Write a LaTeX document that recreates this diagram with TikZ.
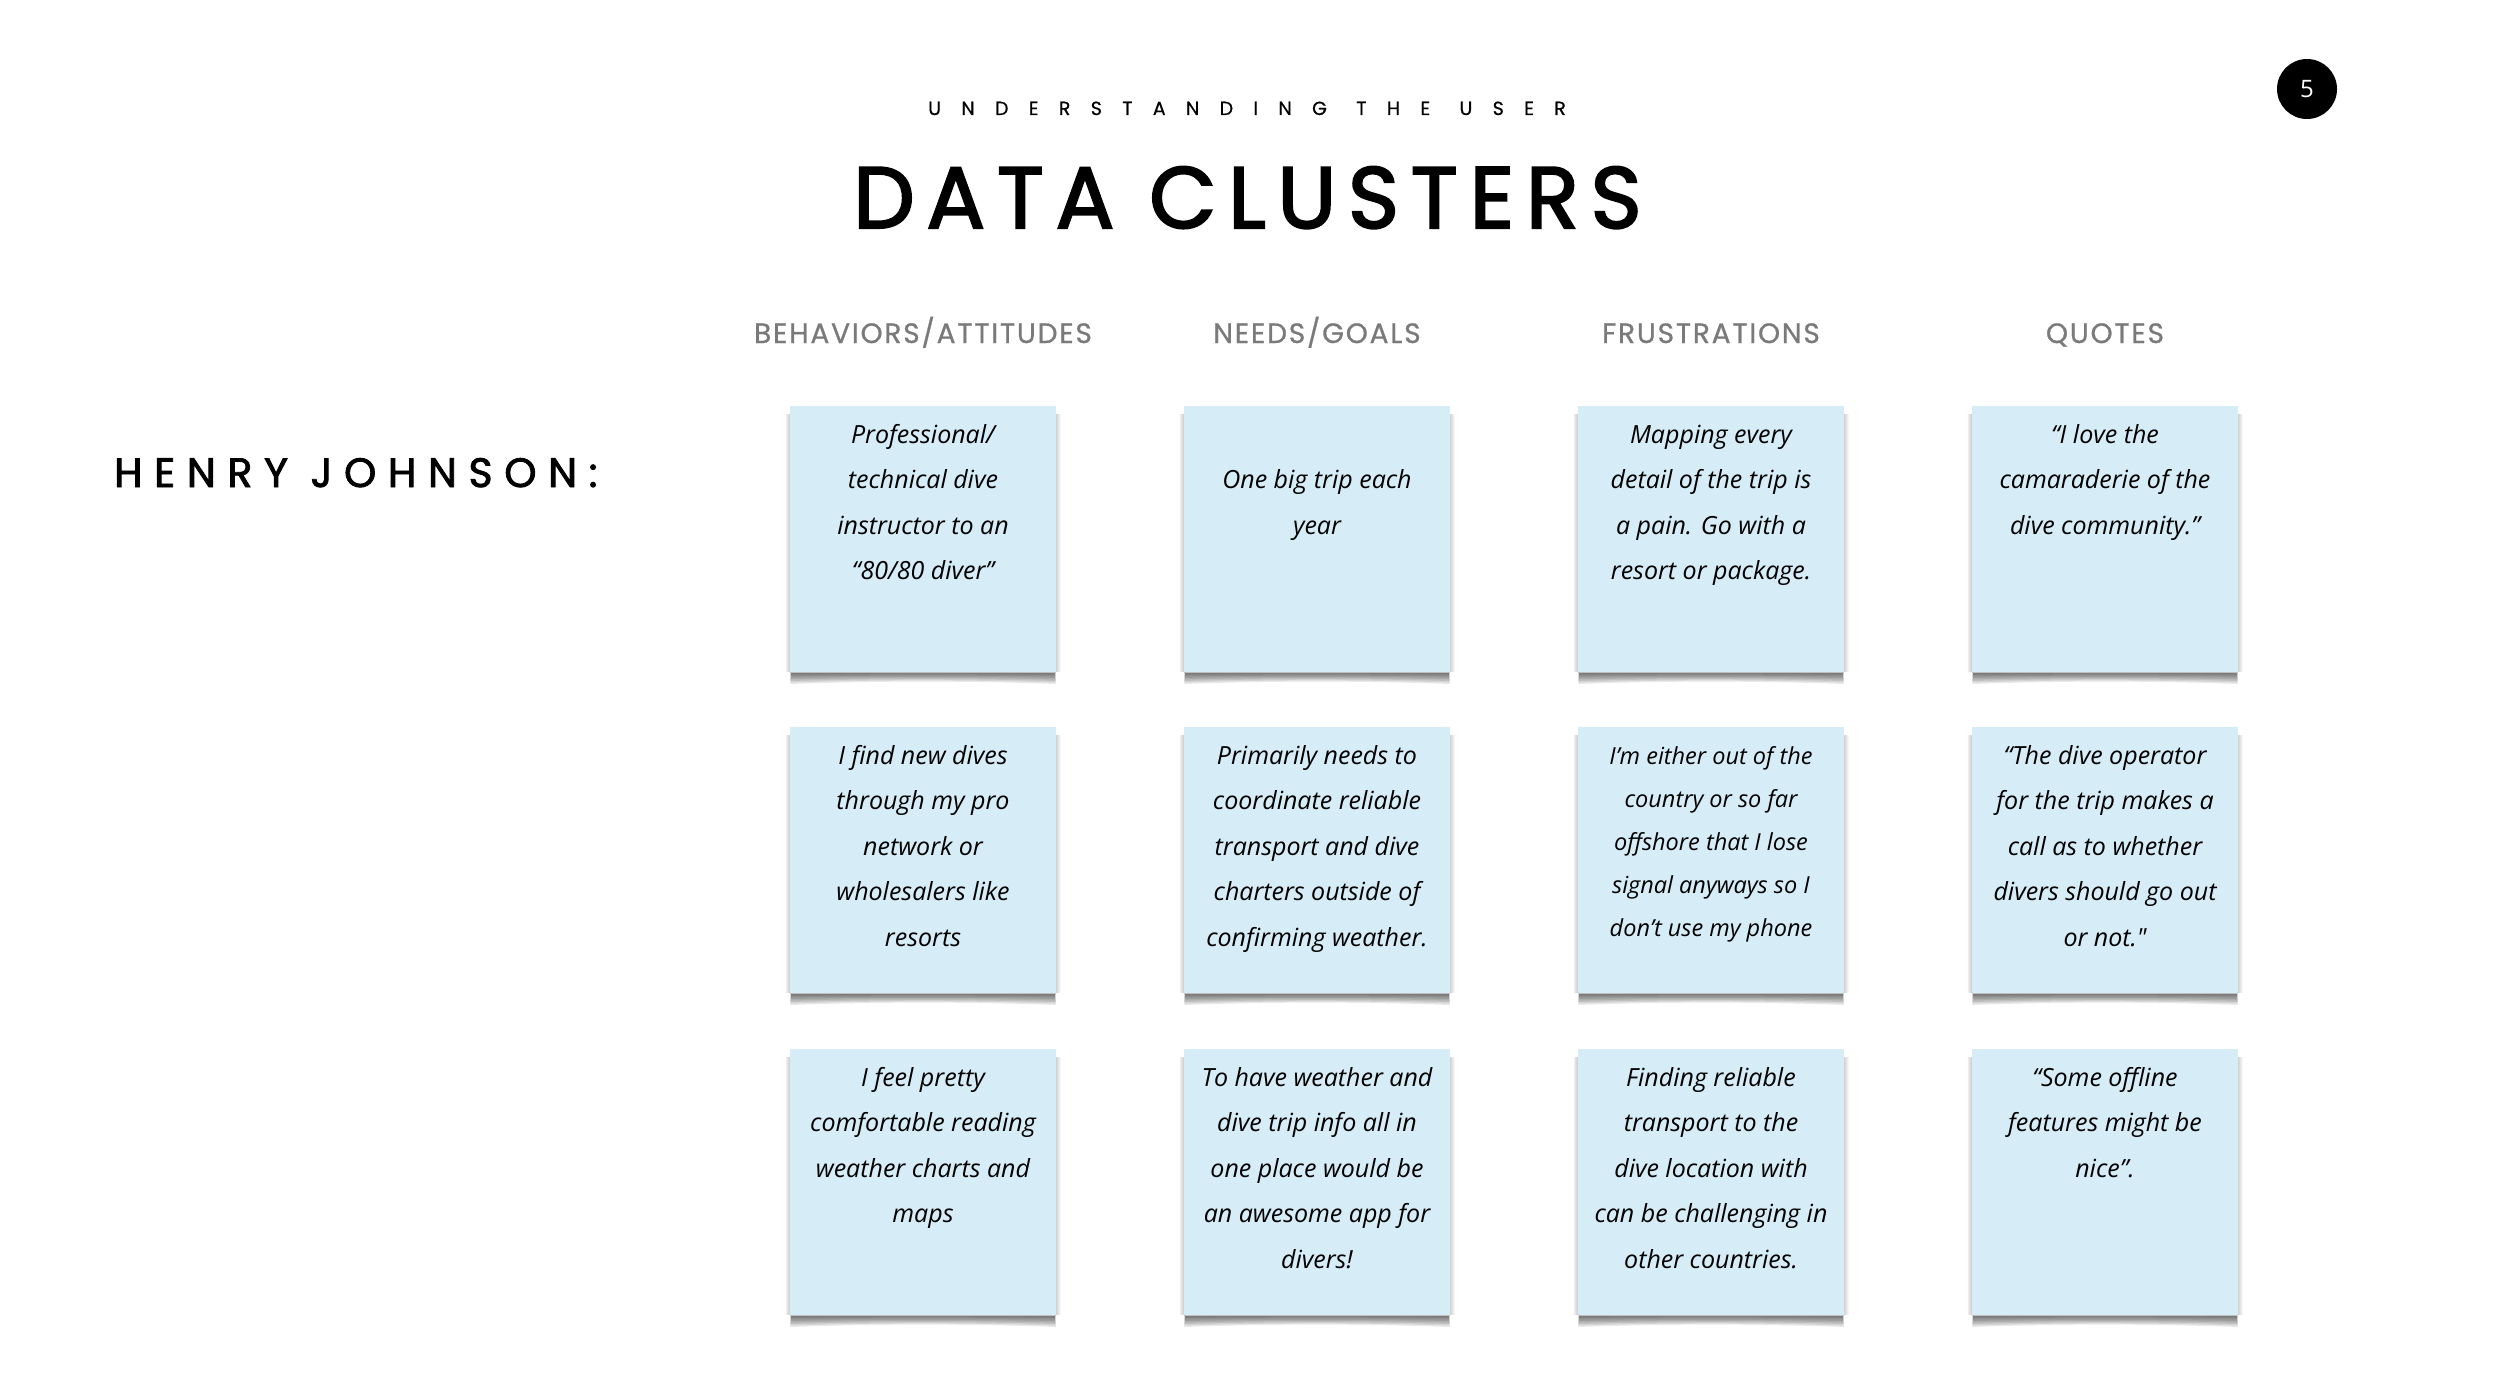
\documentclass[tikz,border=0pt]{standalone}
\usepackage{fontspec}
\newfontfamily\pop{Poppins}[FakeBold=0.6]
\newfontfamily\poptitle{Poppins}[FakeBold=2.4]
\newfontfamily\popmed{Poppins}[FakeBold=2]
\newfontfamily\pophead{Poppins}[FakeBold=0.8]
\newfontfamily\osans{Open Sans}
\newfontfamily\notefont{Open Sans}
\definecolor{notecol}{RGB}{214,237,247}
\definecolor{headgray}{RGB}{122,122,122}
\tikzset{
  notebox/.style={fill=notecol, minimum width=266pt, minimum height=266pt, inner sep=0pt, draw=none},
  notetext/.style={anchor=north, inner sep=0pt, align=center, font=\notefont\itshape\fontsize{25}{45.5}\selectfont},
  smalltext/.style={font=\notefont\itshape\fontsize{23.5}{43}\selectfont},
  colhead/.style={anchor=base, inner sep=0pt, text=headgray, font=\pophead\fontsize{28}{30}\selectfont\addfontfeatures{LetterSpace=6.5}},
}
\newcommand\stickynote[6][]{%
  \begin{scope}[shift={(#3,#4)}]
    \foreach \i in {1,...,5}{\fill[black,opacity=0.035] (-\i*0.9,8) rectangle (266+\i*0.9,266);}
    \foreach \i in {1,...,8}{\fill[black,opacity=0.09] (1,262) -- (265,262) -- (265+\i*0.1,266+\i*1.5) .. controls (180,266+\i*1.1) and (86,266+\i*1.1) .. (1-\i*0.1,266+\i*1.5) -- cycle;}
    \node[notebox, anchor=north west] (#2) at (0,0) {};
    \draw[black!25, line width=1.2pt] (#2.south west) -- (#2.south east);
    \node[notetext,#1] (#2t) at (133,#5) {\strut #6};
  \end{scope}
}
\begin{document}
\begin{tikzpicture}[x=1pt,y=-1pt]
\useasboundingbox (0,0) rectangle (2500,1399);
\fill[white] (0,0) rectangle (2500,1399);

\node[anchor=base west, inner sep=0pt, font=\pop\fontsize{19}{20}\selectfont\addfontfeatures{LetterSpace=107}] (sub) at (928,115) {UNDERSTANDING\hspace{4pt} THE\hspace{4pt} USER};
\node[anchor=base west, inner sep=0pt, font=\poptitle\fontsize{87}{90}\selectfont\addfontfeatures{LetterSpace=13.5}] (title) at (853,228) {DATA CLUSTERS};
\node[circle, fill=black, minimum size=60pt, inner sep=0pt, text=white, font=\osans\fontsize{24}{26}\selectfont] (page) at (2307,89) {5};
\node[anchor=base west, inner sep=0pt, font=\popmed\fontsize{41}{44}\selectfont\addfontfeatures{LetterSpace=28.5}] (henry) at (114,487) {HENRY JOHNSON:};

\node[colhead] (h1) at (923,343) {BEHAVIORS/ATTITUDES};
\node[colhead] (h2) at (1317,343) {NEEDS/GOALS};
\node[colhead] (h3) at (1711,343) {FRUSTRATIONS};
\node[colhead] (h4) at (2105,343) {QUOTES};

\stickynote{n11}{790}{406}{5.15}{Professional/\\technical dive\\instructor to an\\“80/80 diver”}
\stickynote{n12}{1184}{406}{50.65}{One big trip each\\year}
\stickynote{n13}{1578}{406}{5.15}{Mapping every\\detail of the trip is\\a pain. Go with a\\resort or package.}
\stickynote{n14}{1972}{406}{5.15}{“I love the\\camaraderie of the\\dive community.”}

\stickynote{n21}{790}{727}{5.15}{I find new dives\\through my pro\\network or\\wholesalers like\\resorts}
\stickynote{n22}{1184}{727}{5.15}{Primarily needs to\\coordinate reliable\\transport and dive\\charters outside of\\confirming weather.}
\stickynote[smalltext]{n23}{1578}{727}{6.9}{I’m either out of the\\country or so far\\offshore that I lose\\signal anyways so I\\don’t use my phone}
\stickynote{n24}{1972}{727}{5.15}{“The dive operator\\for the trip makes a\\call as to whether\\divers should go out\\or not."}

\stickynote{n31}{790}{1049}{5.15}{I feel pretty\\comfortable reading\\weather charts and\\maps}
\stickynote{n32}{1184}{1049}{5.15}{To have weather and\\dive trip info all in\\one place would be\\an awesome app for\\divers!}
\stickynote{n33}{1578}{1049}{5.15}{Finding reliable\\transport to the\\dive location with\\can be challenging in\\other countries.}
\stickynote{n34}{1972}{1049}{5.15}{“Some offline\\features might be\\nice”.}
\end{tikzpicture}
\end{document}
